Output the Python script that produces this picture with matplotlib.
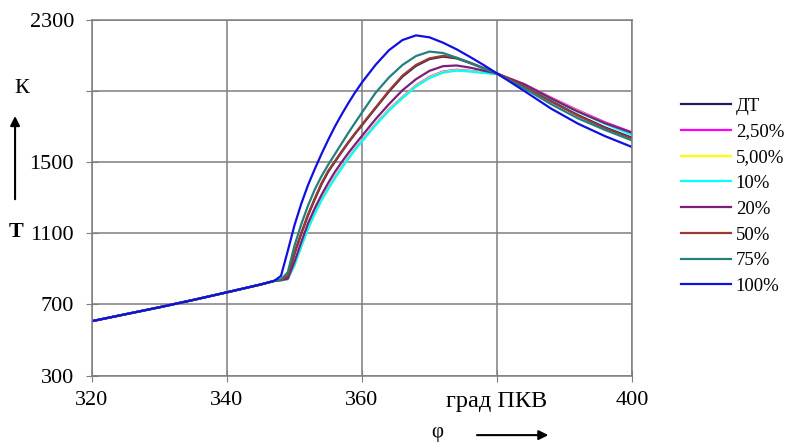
import numpy as np
import matplotlib
matplotlib.use("Agg")
import matplotlib.pyplot as plt

plt.rcParams["font.family"] = ["Liberation Serif", "DejaVu Serif"]

# -------- данные ----------
PHI = [320, 325, 330, 335, 340, 345, 347, 348, 349, 350, 351, 352, 353, 354,
       355, 356, 357, 358, 359, 360, 362, 364, 366, 368, 370, 372, 374, 376,
       378, 380, 384, 388, 392, 396, 400]

# такт сжатия (общий для всех режимов), 320..347
T_COMPR = [606, 645, 684, 725, 768, 812, 832]

T_DT = [838, 858, 985, 1097, 1200, 1290, 1375, 1446, 1502, 1557, 1610, 1660,
        1707, 1802, 1896, 1980, 2040, 2078, 2092, 2082, 2056, 2027, 1997,
        1926, 1842, 1763, 1694, 1636]
T_2_5 = [836, 842, 925, 1030, 1130, 1215, 1290, 1355, 1415, 1472, 1525, 1575,
         1622, 1712, 1795, 1865, 1930, 1978, 2008, 2018, 2012, 2003, 1995,
         1937, 1862, 1790, 1723, 1666]
T_5 = [836, 841, 922, 1027, 1127, 1212, 1287, 1352, 1412, 1469, 1522, 1572,
       1619, 1709, 1792, 1862, 1927, 1975, 2005, 2015, 2010, 2002, 1995,
       1934, 1858, 1786, 1718, 1658]
T_10 = [836, 841, 920, 1025, 1124, 1209, 1284, 1349, 1409, 1466, 1519, 1569,
        1616, 1706, 1789, 1859, 1924, 1972, 2002, 2013, 2008, 2000, 1994,
        1932, 1855, 1782, 1714, 1652]
T_20 = [836, 845, 940, 1050, 1155, 1240, 1315, 1383, 1445, 1500, 1552, 1600,
        1647, 1740, 1825, 1903, 1965, 2012, 2038, 2042, 2030, 2013, 1997,
        1937, 1857, 1783, 1718, 1664]
T_50 = [838, 860, 990, 1100, 1205, 1295, 1380, 1450, 1505, 1560, 1612, 1662,
        1710, 1805, 1900, 1985, 2045, 2082, 2096, 2085, 2058, 2028, 1997,
        1925, 1840, 1760, 1690, 1632]
T_75 = [840, 880, 1030, 1150, 1255, 1345, 1420, 1485, 1545, 1605, 1665, 1722,
        1778, 1888, 1975, 2045, 2095, 2120, 2112, 2086, 2056, 2026, 1995,
        1915, 1825, 1745, 1680, 1621]
T_100 = [860, 1000, 1145, 1265, 1370, 1460, 1545, 1625, 1700, 1768, 1832,
         1892, 1947, 2045, 2128, 2185, 2211, 2200, 2170, 2133, 2090, 2045,
         1997, 1900, 1800, 1715, 1645, 1584]

SERIES = [
    ("ДТ", T_DT, "#1c1c5c"),
    ("2,50%", T_2_5, "#ff00ff"),
    ("5,00%", T_5, "#ffff00"),
    ("10%", T_10, "#00ffff"),
    ("20%", T_20, "#7a1f7a"),
    ("50%", T_50, "#9c3a32"),
    ("75%", T_75, "#23807c"),
    ("100%", T_100, "#1010e0"),
]

X_TICKS = [320, 340, 360, 380, 400]
X_LABELS = ["320", "340", "360", "град ПКВ", "400"]
Y_TICKS = [300, 700, 1100, 1500, 1900, 2300]
Y_LABELS = ["300", "700", "1100", "1500", "", "2300"]

# -------- рисунок ----------
fig = plt.figure(figsize=(7.93, 4.44), dpi=100)
ax = fig.add_axes([0.116, 0.154, 0.681, 0.802])

for name, vals, col in SERIES:
    ax.plot(PHI, T_COMPR + vals, color=col, lw=1.6, label=name)

ax.set_xlim(320, 400)
ax.set_ylim(300, 2300)
ax.set_xticks(X_TICKS)
ax.set_xticklabels(X_LABELS)
ax.set_yticks(Y_TICKS)
ax.set_yticklabels(Y_LABELS)
ax.grid(True, color="#7f7f7f", lw=1.1)
ax.tick_params(direction="inout", length=8, color="#7f7f7f", labelsize=16)
ax.tick_params(axis="x", pad=7)
ax.tick_params(axis="y", pad=9)
ax.get_xticklabels()[3].set_fontsize(17.5)
for s in ax.spines.values():
    s.set_color("#7f7f7f")
    s.set_linewidth(1.1)

ax.legend(loc="upper left", bbox_to_anchor=(0.838, 0.818),
          bbox_transform=fig.transFigure, frameon=False,
          fontsize=13.5, handlelength=2.65, labelspacing=0.46,
          handletextpad=0.25)

# подписи осей
fig.text(0.027, 0.80, "К", fontsize=16, ha="center", va="center")
fig.text(0.020, 0.477, "T", fontsize=16, fontweight="bold",
         ha="center", va="center")
fig.add_artist(matplotlib.patches.FancyArrowPatch(
    (0.019, 0.545), (0.019, 0.745), transform=fig.transFigure,
    arrowstyle="-|>", mutation_scale=14, color="black", lw=1.5))
fig.text(0.552, 0.026, "φ", fontsize=15, ha="center", va="center")
fig.add_artist(matplotlib.patches.FancyArrowPatch(
    (0.598, 0.020), (0.695, 0.020), transform=fig.transFigure,
    arrowstyle="-|>", mutation_scale=14, color="black", lw=1.5))

fig.savefig("out.png", dpi=100)
